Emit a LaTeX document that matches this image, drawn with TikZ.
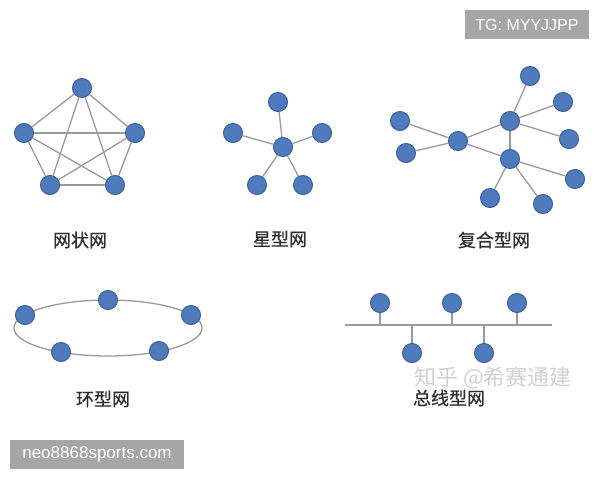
\documentclass[tikz,border=0pt]{standalone}
\usepackage{fontspec}
\setmainfont{Liberation Sans}
\newfontfamily\cjk[FakeBold=0.6]{Noto Sans CJK SC}
\newfontfamily\cjklight{Noto Sans CJK SC}
\definecolor{nodeblue}{HTML}{4F7BBE}
\definecolor{nodeedge}{HTML}{3B5F96}
\definecolor{linkgray}{HTML}{9A9A9A}
\definecolor{wmgray}{HTML}{A6A6A6}
\begin{document}
\begin{tikzpicture}[x=1pt,y=-1pt,
  dot/.style={circle, fill=nodeblue, draw=nodeedge, line width=1pt, minimum size=19pt, inner sep=0pt},
  link/.style={draw=linkgray, line width=1.3pt},
  lbl/.style={font=\cjk\fontsize{18}{18}\selectfont, text=black!82, inner sep=0pt},
  wmbox/.style={fill=wmgray, text=white, inner sep=0pt, anchor=center},
  faint/.style={font=\cjklight\fontsize{22}{22}\selectfont, text=black!18, inner sep=0pt}
]
\useasboundingbox (0,0) rectangle (600,480);
\fill[white] (0,0) rectangle (600,480);

% ---------- mesh ----------
\node[dot] (m1) at (82,88) {};
\node[dot] (m2) at (24,133) {};
\node[dot] (m3) at (135,133) {};
\node[dot] (m4) at (50,185) {};
\node[dot] (m5) at (115,185) {};
\foreach \a/\b in {m1/m2,m1/m3,m1/m4,m1/m5,m2/m3,m2/m4,m2/m5,m3/m4,m3/m5,m4/m5}
  \draw[link] (\a) -- (\b);
\node[lbl] (lm) at (80,240) {网状网};

% ---------- star ----------
\node[dot] (s0) at (283,147) {};
\node[dot] (s1) at (278,102) {};
\node[dot] (s2) at (233,133) {};
\node[dot] (s3) at (322,133) {};
\node[dot] (s4) at (257,185) {};
\node[dot] (s5) at (303,185) {};
\foreach \b in {s1,s2,s3,s4,s5}
  \draw[link] (s0) -- (\b);
\node[lbl] (ls) at (280,239) {星型网};

% ---------- composite ----------
\node[dot] (ca) at (458,141) {};
\node[dot] (cb) at (510,121) {};
\node[dot] (cc) at (510,159) {};
\node[dot] (l1) at (400,121) {};
\node[dot] (l2) at (406,153) {};
\node[dot] (t1) at (530,76) {};
\node[dot] (r1) at (563,102) {};
\node[dot] (r2) at (569,139) {};
\node[dot] (r3) at (575,179) {};
\node[dot] (b1) at (490,198) {};
\node[dot] (b2) at (543,204) {};
\foreach \a/\b in {l1/ca,l2/ca,ca/cb,ca/cc,cb/cc,cb/t1,cb/r1,cb/r2,cc/r3,cc/b1,cc/b2}
  \draw[link] (\a) -- (\b);
\node[lbl] (lc) at (494,240) {复合型网};

% ---------- ring ----------
\coordinate (rc) at (108,328);
\draw[link] (rc) ellipse [x radius=94pt, y radius=28pt];
\node[dot] (g1) at (108,300) {};
\node[dot] (g2) at (25,315) {};
\node[dot] (g3) at (191,315) {};
\node[dot] (g4) at (61,352) {};
\node[dot] (g5) at (159,351) {};
\node[lbl] (lg) at (103,399) {环型网};

% ---------- bus ----------
\coordinate (busl) at (345,325);
\coordinate (busr) at (552,325);
\draw[link, line width=1.8pt] (busl) -- (busr);
\node[dot] (u1) at (380,303) {};
\node[dot] (u2) at (452,303) {};
\node[dot] (u3) at (517,303) {};
\node[dot] (d1) at (412,353) {};
\node[dot] (d2) at (484,353) {};
\foreach \n in {u1,u2,u3,d1,d2}
  \draw[link] (\n) -- (\n |- busl);
\node[faint] (zh) at (493,378) {知乎 @希赛通建};
\node[lbl] (lb) at (449,398) {总线型网};

% ---------- watermark boxes ----------
\node[wmbox, minimum width=124pt, minimum height=29pt, font=\fontsize{16}{16}\selectfont] (tg) at (527,24.5) {TG: MYYJJPP};
\node[wmbox, minimum width=174pt, minimum height=29pt, font=\fontsize{17}{17}\selectfont] (neo) at (97,454.5) {neo8868sports.com};
\end{tikzpicture}
\end{document}
